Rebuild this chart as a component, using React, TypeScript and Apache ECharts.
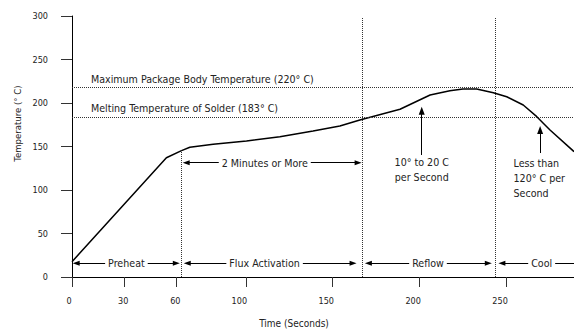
import React, { useEffect, useRef } from 'react';
import * as echarts from 'echarts';

const FONT = "'Liberation Sans Narrow', 'Arial Narrow', 'DejaVu Sans Condensed', sans-serif";

// Reflow profile curve (seconds, °C)
const timeSec = [0, 54.3, 63, 67.8, 81.2, 100.4, 119.6, 138.7, 154.1, 165.6, 188.7, 206, 217.4, 224.9, 232.8, 242.4, 250.1, 259.6, 267.4, 275, 288.8];
const tempC = [17.6, 137.1, 145.2, 149.1, 152.5, 156.3, 161.3, 167.8, 173.6, 180.5, 192.8, 209.2, 214.1, 216.1, 216.1, 211.8, 207.2, 197.7, 184.3, 169, 144.1];

// Axis ticks
const xTicks = [0, 30, 60, 100, 150, 200, 250];
const xMax = 288.8;
const yMax = 300;
const yStep = 50;

// Reference temperature lines
const limitTemps = [218, 184];
const limitLabels = ['Maximum Package Body Temperature (220° C)', 'Melting Temperature of Solder (183° C)'];
const limitLabelAt = [[10.9, 227.2], [10.9, 194.5]];

// Phase boundaries (seconds) and their tops (°C)
const boundaries = [62.8, 167, 243.4];
const boundaryTops = [145.2, 297.7, 297.7];

// Phase arrows
const phaseNames = ['Preheat', 'Flux Activation', 'Reflow', 'Cool'];
const phaseStart = [2.4, 66.3, 170.5, 247.3];
const phaseEnd = [60, 161.7, 239.5, 288.8];
const phaseLabelAt = [31.3, 110.8, 204.8, 270.2];
const phaseRowTemp = 15.7;

// "2 Minutes or More" span
const spanText = '2 Minutes or More';
const spanStart = 65.7;
const spanEnd = 164.6;
const spanLabelAt = 110.9;
const spanTemp = 131.4;

// Rate annotations
const rateTexts = ['10° to 20 C\nper Second', 'Less than\n120° C per\nSecond'];
const rateArrowX = [201.2, 269.3];
const rateArrowFrom = [140.2, 142.5];
const rateArrowTo = [191.1, 169];
const rateTextAt = [[201.2, 123], [254, 113.8]];

export default function App() {
  const ref = useRef<HTMLDivElement>(null);

  useEffect(() => {
    const chart = echarts.init(ref.current!, null, { renderer: 'svg' });

    const dotted = { color: '#333', width: 1, type: [1, 1] as number[] };
    const solid = { color: '#000', width: 1, type: 'solid' as const };
    const ARW: [number, number] = [5, 7];
    const FS = 10.6;
    const TICK_FS = 9;

    const markLineData: any[] = [];
    limitTemps.forEach((t) => {
      markLineData.push([
        { coord: [0, t], lineStyle: dotted },
        { coord: [xMax, t] },
      ]);
    });
    boundaries.forEach((b, i) => {
      markLineData.push([
        { coord: [b, 0], lineStyle: dotted },
        { coord: [b, boundaryTops[i]] },
      ]);
    });
    phaseNames.forEach((_, i) => {
      markLineData.push([
        { coord: [phaseStart[i], phaseRowTemp], symbol: 'triangle', symbolSize: ARW, lineStyle: solid },
        { coord: [phaseEnd[i], phaseRowTemp], symbol: i === 3 ? 'none' : 'triangle', symbolSize: ARW },
      ]);
    });
    markLineData.push([
      { coord: [spanStart, spanTemp], symbol: 'triangle', symbolSize: ARW, lineStyle: solid },
      { coord: [spanEnd, spanTemp], symbol: 'triangle', symbolSize: ARW },
    ]);
    rateArrowX.forEach((x, i) => {
      markLineData.push([
        { coord: [x, rateArrowFrom[i]], symbol: 'none', lineStyle: solid },
        { coord: [x, rateArrowTo[i]], symbol: 'triangle', symbolSize: [6, 8] },
      ]);
    });

    const baseLabel = { fontFamily: FONT, fontSize: FS, color: '#222' };
    const markPointData: any[] = [];
    limitLabels.forEach((txt, i) => {
      markPointData.push({
        coord: limitLabelAt[i],
        label: { ...baseLabel, show: true, formatter: txt, position: 'right', distance: 0 },
      });
    });
    phaseNames.forEach((name, i) => {
      markPointData.push({
        coord: [phaseLabelAt[i], phaseRowTemp],
        label: { ...baseLabel, show: true, formatter: name, position: 'inside', backgroundColor: '#fff', padding: [0, 3] },
      });
    });
    markPointData.push({
      coord: [spanLabelAt, spanTemp],
      label: { ...baseLabel, show: true, formatter: spanText, position: 'inside', backgroundColor: '#fff', padding: [0, 3] },
    });
    markPointData.push({
      coord: rateTextAt[0],
      label: { ...baseLabel, show: true, formatter: rateTexts[0], position: 'inside', align: 'center', lineHeight: 15 },
    });
    markPointData.push({
      coord: rateTextAt[1],
      label: { ...baseLabel, show: true, formatter: rateTexts[1], position: 'right', distance: 0, align: 'left', lineHeight: 15 },
    });

    const tickRich = {
      a: { fontFamily: FONT, fontSize: TICK_FS, color: '#222', padding: [0, 6, 0, 0] },
      c: { fontFamily: FONT, fontSize: TICK_FS, color: '#222', padding: [0, 2, 0, 0] },
      b: { fontFamily: FONT, fontSize: TICK_FS, color: '#222', padding: [0, 13, 0, 0] },
    };

    const option: any = {
      animation: false,
      backgroundColor: '#fff',
      textStyle: { fontFamily: FONT },
      grid: { left: 72, right: 0, top: 16, bottom: 54, containLabel: false },
      xAxis: {
        type: 'value',
        min: 0,
        max: xMax,
        axisLine: { show: true, onZero: false, lineStyle: { color: '#000', width: 1 } },
        axisTick: { show: true, length: 10, customValues: xTicks, lineStyle: { color: '#333' } },
        axisLabel: {
          customValues: xTicks,
          margin: 19,
          fontFamily: FONT,
          fontSize: TICK_FS,
          color: '#222',
          formatter: (v: number) => (v >= 100 ? `{b|${v}}` : v === 0 ? `{a|${v}}` : `{c|${v}}`),
          rich: tickRich,
        },
        splitLine: { show: false },
      },
      yAxis: {
        type: 'value',
        min: 0,
        max: yMax,
        interval: yStep,
        axisLine: { show: true, onZero: false, lineStyle: { color: '#000', width: 1 } },
        axisTick: { show: true, length: 11, lineStyle: { color: '#333' } },
        axisLabel: { margin: 24, fontFamily: FONT, fontSize: TICK_FS, color: '#222' },
        splitLine: { show: false },
      },
      graphic: [
        {
          type: 'text',
          x: 17,
          y: 123.5,
          rotation: Math.PI / 2,
          style: { text: 'Temperature (° C)', fontFamily: FONT, fontSize: 9.5, fill: '#222', align: 'center', verticalAlign: 'middle' },
        },
        {
          type: 'text',
          x: 294,
          y: 323,
          style: { text: 'Time (Seconds)', fontFamily: FONT, fontSize: 10, fill: '#222', align: 'center', verticalAlign: 'middle' },
        },
      ],
      series: [
        {
          type: 'line',
          data: timeSec.map((t, i) => [t, tempC[i]]),
          symbol: 'none',
          showSymbol: false,
          silent: true,
          lineStyle: { color: '#000', width: 1.5 },
          markLine: {
            silent: true,
            symbol: ['none', 'none'],
            label: { show: false },
            emphasis: { disabled: true },
            data: markLineData,
          },
          markPoint: {
            silent: true,
            z: 6,
            symbol: 'circle',
            symbolSize: 0,
            itemStyle: { color: 'rgba(0,0,0,0)' },
            emphasis: { disabled: true },
            data: markPointData,
          },
        },
      ],
    };

    chart.setOption(option);
    return () => chart.dispose();
  }, []);

  return (
    <div
      ref={ref}
      style={{ position: 'fixed', left: 0, top: 0, width: 574, height: 331, background: '#fff' }}
    />
  );
}
